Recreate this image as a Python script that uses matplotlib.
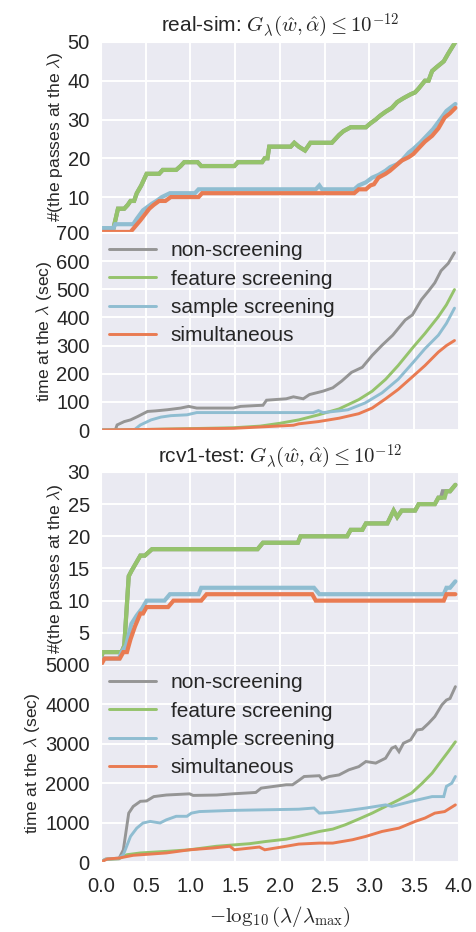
import matplotlib
matplotlib.use("Agg")
import matplotlib.pyplot as plt
import seaborn as sns

# ---- data: (x, value) knots per series ----
# real-sim, number of passes (non-screening lies under feature screening)
rs_pass_feature = [(0.0, 2), (0.14, 2), (0.19, 7), (0.26, 7), (0.30, 8), (0.33, 9), (0.37, 9),
                   (0.40, 11), (0.45, 13), (0.51, 16), (0.65, 16), (0.69, 17), (0.84, 17),
                   (0.89, 18), (0.93, 19), (1.08, 19), (1.12, 18), (1.49, 18), (1.53, 19),
                   (1.80, 19), (1.83, 20), (1.86, 20), (1.88, 23), (2.12, 23), (2.16, 24),
                   (2.21, 23), (2.28, 22), (2.34, 24), (2.58, 24), (2.66, 26), (2.71, 27),
                   (2.79, 28), (2.96, 28), (3.01, 29), (3.07, 30), (3.12, 31), (3.18, 32),
                   (3.25, 33), (3.31, 34.5), (3.38, 35.5), (3.46, 36.5), (3.51, 37), (3.55, 38),
                   (3.62, 40), (3.66, 40), (3.70, 42.5), (3.75, 43.5), (3.83, 45), (3.88, 47),
                   (3.96, 50)]
rs_pass_none = list(rs_pass_feature)
rs_pass_sample = [(0.0, 2), (0.14, 2), (0.16, 3), (0.36, 3), (0.40, 4.4), (0.47, 6.6),
                  (0.57, 8.3), (0.62, 9), (0.68, 10), (0.77, 11), (1.05, 11), (1.09, 12),
                  (2.40, 12), (2.44, 13), (2.47, 12), (2.83, 12), (2.88, 13), (2.96, 13.8),
                  (3.03, 15), (3.10, 15.7), (3.18, 16.8), (3.23, 17.7), (3.31, 18.5),
                  (3.36, 19.4), (3.44, 21.5), (3.49, 22.4), (3.57, 24.1), (3.64, 25.8),
                  (3.71, 27.5), (3.79, 30), (3.86, 32.2), (3.96, 34)]
rs_pass_simul = [(0.0, 1), (0.33, 1), (0.44, 4), (0.54, 7), (0.59, 8), (0.65, 9), (0.72, 9),
                 (0.78, 10), (1.09, 10), (1.13, 11), (2.83, 11), (2.88, 12), (2.96, 12),
                 (3.01, 13), (3.05, 13.3), (3.10, 15), (3.18, 16), (3.23, 16.8), (3.29, 18),
                 (3.36, 19.4), (3.44, 20.3), (3.49, 21.1), (3.55, 22.6), (3.62, 24.3),
                 (3.70, 25.8), (3.77, 27.7), (3.84, 30.5), (3.90, 31.6), (3.96, 33)]

# real-sim, time (sec)
rs_time_none = [(0.0, 0), (0.16, 0), (0.18, 18), (0.26, 30), (0.33, 36), (0.41, 48), (0.52, 66),
                (0.61, 68), (0.74, 72), (0.89, 78), (0.98, 84), (1.07, 78), (1.48, 78),
                (1.56, 84), (1.74, 87), (1.81, 88), (1.85, 106), (2.07, 111), (2.15, 118),
                (2.26, 111), (2.33, 126), (2.48, 138), (2.59, 150), (2.69, 174), (2.80, 205),
                (2.92, 223), (3.03, 265), (3.14, 301), (3.26, 337), (3.40, 391), (3.48, 409),
                (3.58, 463), (3.66, 494), (3.73, 523), (3.80, 566), (3.88, 592), (3.95, 630)]
rs_time_feature = [(0.0, 0), (0.5, 2), (1.0, 5), (1.48, 8), (1.78, 14), (2.0, 24), (2.21, 36),
                   (2.43, 54), (2.66, 75), (2.88, 108), (3.03, 138), (3.18, 180), (3.32, 229),
                   (3.49, 295), (3.62, 343), (3.77, 403), (3.86, 445), (3.95, 499)]
rs_time_sample = [(0.0, 0), (0.37, 0), (0.44, 18), (0.56, 36), (0.67, 46), (0.78, 51),
                  (0.96, 54), (1.07, 62), (2.37, 62), (2.43, 69), (2.48, 62), (2.66, 68),
                  (2.76, 72), (2.95, 96), (3.14, 132), (3.32, 180), (3.49, 241), (3.62, 289),
                  (3.77, 337), (3.86, 379), (3.95, 433)]
rs_time_simul = [(0.0, 0), (0.5, 2), (1.0, 4), (1.48, 6), (1.85, 12), (2.15, 17), (2.21, 22),
                 (2.43, 30), (2.66, 42), (2.88, 58), (3.03, 78), (3.18, 111), (3.32, 144),
                 (3.49, 192), (3.62, 229), (3.77, 277), (3.86, 300), (3.95, 318)]

# rcv1-test, number of passes
rc_pass_none = [(0.0, 1), (0.02, 2), (0.23, 2), (0.26, 3), (0.31, 13.8), (0.34, 14.6),
                (0.44, 17), (0.49, 17), (0.57, 18), (1.75, 18), (1.81, 19), (2.20, 19),
                (2.23, 20), (2.75, 20), (2.79, 21), (2.92, 21), (2.96, 22), (3.20, 22),
                (3.27, 24), (3.31, 23), (3.36, 24), (3.51, 24), (3.55, 25), (3.73, 25),
                (3.77, 26), (3.80, 26), (3.82, 27), (3.90, 27), (3.96, 28)]
rc_pass_feature = [(0.0, 1), (0.02, 2), (0.23, 2), (0.26, 3), (0.31, 13.8), (0.34, 14.6),
                   (0.44, 17), (0.49, 17), (0.57, 18), (1.75, 18), (1.81, 19), (2.20, 19),
                   (2.23, 20), (2.75, 20), (2.79, 21), (2.92, 21), (2.96, 22), (3.20, 22),
                   (3.27, 24), (3.31, 23), (3.36, 24), (3.51, 24), (3.55, 25), (3.73, 25),
                   (3.77, 26), (3.84, 26), (3.86, 27), (3.90, 27), (3.96, 28)]
rc_pass_sample = [(0.0, 0), (0.02, 1), (0.20, 1), (0.23, 2), (0.28, 3), (0.34, 6.4),
                  (0.40, 7.7), (0.46, 8.8), (0.51, 10), (0.71, 10), (0.77, 11), (1.09, 11),
                  (1.12, 12), (2.38, 12), (2.44, 11), (3.83, 11), (3.86, 12), (3.90, 12),
                  (3.96, 13)]
rc_pass_simul = [(0.0, 0), (0.04, 1), (0.21, 1), (0.25, 2), (0.29, 2), (0.33, 4), (0.38, 6),
                 (0.44, 8), (0.47, 8), (0.51, 9), (0.75, 9), (0.81, 10), (1.12, 10),
                 (1.18, 11), (2.36, 11), (2.40, 10), (3.83, 10), (3.86, 11), (3.96, 11)]

# rcv1-test, time (sec)
rc_time_none = [(0.0, 0), (0.05, 70), (0.20, 84), (0.25, 310), (0.31, 1240), (0.36, 1410),
                (0.44, 1540), (0.51, 1550), (0.59, 1660), (0.73, 1700), (0.99, 1730),
                (1.03, 1690), (1.29, 1700), (1.47, 1730), (1.73, 1765), (1.79, 1875),
                (1.92, 1915), (2.07, 1960), (2.14, 1960), (2.21, 2070), (2.27, 2170),
                (2.44, 2190), (2.47, 2100), (2.55, 2170), (2.66, 2210), (2.77, 2340),
                (2.88, 2420), (2.96, 2550), (3.07, 2510), (3.18, 2635), (3.25, 2890),
                (3.29, 2930), (3.33, 2800), (3.38, 3015), (3.46, 3100), (3.53, 3350),
                (3.59, 3370), (3.66, 3520), (3.73, 3690), (3.81, 3990), (3.86, 4110),
                (3.90, 4150), (3.96, 4450)]
rc_time_feature = [(0.0, 0), (0.05, 70), (0.20, 84), (0.29, 185), (0.44, 230), (0.73, 270),
                   (0.99, 310), (1.29, 400), (1.66, 465), (1.84, 520), (2.07, 580),
                   (2.21, 650), (2.44, 775), (2.59, 835), (2.73, 945), (2.88, 1090),
                   (3.03, 1240), (3.18, 1410), (3.33, 1580), (3.47, 1750), (3.59, 2000),
                   (3.70, 2255), (3.81, 2590), (3.88, 2800), (3.96, 3050)]
rc_time_sample = [(0.0, 0), (0.05, 70), (0.20, 100), (0.25, 185), (0.33, 650), (0.40, 860),
                  (0.47, 990), (0.55, 1030), (0.66, 990), (0.73, 1070), (0.84, 1160),
                  (0.96, 1160), (1.01, 1240), (1.10, 1280), (1.47, 1310), (1.84, 1325),
                  (2.21, 1340), (2.38, 1370), (2.44, 1240), (2.59, 1260), (2.77, 1310),
                  (2.96, 1370), (3.18, 1450), (3.25, 1410), (3.47, 1540), (3.70, 1660),
                  (3.83, 1660), (3.86, 1920), (3.92, 2000), (3.96, 2170)]
rc_time_simul = [(0.0, 0), (0.07, 76), (0.20, 100), (0.36, 170), (0.73, 230), (0.99, 310),
                 (1.25, 355), (1.44, 400), (1.49, 310), (1.77, 380), (1.83, 310), (2.07, 400),
                 (2.21, 455), (2.44, 480), (2.59, 480), (2.81, 565), (2.96, 650), (3.14, 775),
                 (3.33, 860), (3.42, 945), (3.51, 1030), (3.62, 1115), (3.73, 1240),
                 (3.84, 1280), (3.96, 1450)]

labels = ["non-screening", "feature screening", "sample screening", "simultaneous"]
colors = ["#959595", "#95C36C", "#8FBDD1", "#E97B52"]

titles = [r"real-sim: $G_\lambda(\hat{w},\hat{\alpha}) \leq 10^{-12}$",
          r"rcv1-test: $G_\lambda(\hat{w},\hat{\alpha}) \leq 10^{-12}$"]
pass_label = r"#(the passes at the $\lambda$)"
time_label = r"time at the $\lambda$ (sec)"

sns.set_style("darkgrid")
plt.rcParams["font.family"] = ["Liberation Sans", "DejaVu Sans"]
plt.rcParams["mathtext.fontset"] = "cm"

fig = plt.figure(figsize=(4.77, 9.32), dpi=100)
left, width = 0.2117, 0.7505
boxes = [(0.7511, 0.2039), (0.5386, 0.2114), (0.2865, 0.2071), (0.0751, 0.2114)]
axes = [fig.add_axes([left, b, width, h]) for b, h in boxes]

panels = [
    (axes[0], [rs_pass_none, rs_pass_feature, rs_pass_sample, rs_pass_simul], 3.0),
    (axes[1], [rs_time_none, rs_time_feature, rs_time_sample, rs_time_simul], 2.1),
    (axes[2], [rc_pass_none, rc_pass_feature, rc_pass_sample, rc_pass_simul], 3.0),
    (axes[3], [rc_time_none, rc_time_feature, rc_time_sample, rc_time_simul], 2.1),
]

for ax, series, lw in panels:
    for pts, lab, col in zip(series, labels, colors):
        xs = [p[0] for p in pts]
        ys = [p[1] for p in pts]
        ax.plot(xs, ys, color=col, lw=lw, label=lab, solid_joinstyle="miter")
    ax.set_xlim(0, 4)
    ax.set_xticks([0.0, 0.5, 1.0, 1.5, 2.0, 2.5, 3.0, 3.5, 4.0])
    ax.tick_params(length=0, labelsize=14.5, colors="#262626")
    ax.tick_params(axis="y", pad=8)
    ax.tick_params(axis="x", pad=11)
    ax.grid(color="white", lw=1.4)

axes[0].set_ylim(1, 50)
axes[0].set_yticks([10, 20, 30, 40, 50])
axes[1].set_ylim(0, 700)
axes[1].set_yticks(range(0, 701, 100))
axes[2].set_ylim(0, 30)
axes[2].set_yticks([5, 10, 15, 20, 25, 30])
axes[3].set_ylim(0, 5000)
axes[3].set_yticks(range(0, 5001, 1000))

for ax in axes[:3]:
    ax.tick_params(labelbottom=False)

axes[0].set_title(titles[0], fontsize=15, color="#262626", pad=7)
axes[2].set_title(titles[1], fontsize=15, color="#262626", pad=7)

for ax in (axes[0], axes[2]):
    ax.set_ylabel(pass_label, fontsize=12.6, color="#262626", labelpad=2)
for ax in (axes[1], axes[3]):
    ax.set_ylabel(time_label, fontsize=12.6, color="#262626", labelpad=2)
    ax.legend(loc="upper left", frameon=False, fontsize=15, handlelength=2.25,
              handletextpad=0.7, labelspacing=0.45, borderaxespad=0.0)

axes[3].set_xlabel(r"$-\log_{10}(\lambda/\lambda_{\max})$", fontsize=15, color="#262626",
                   labelpad=6)

fig.savefig("out.png", dpi=100)
